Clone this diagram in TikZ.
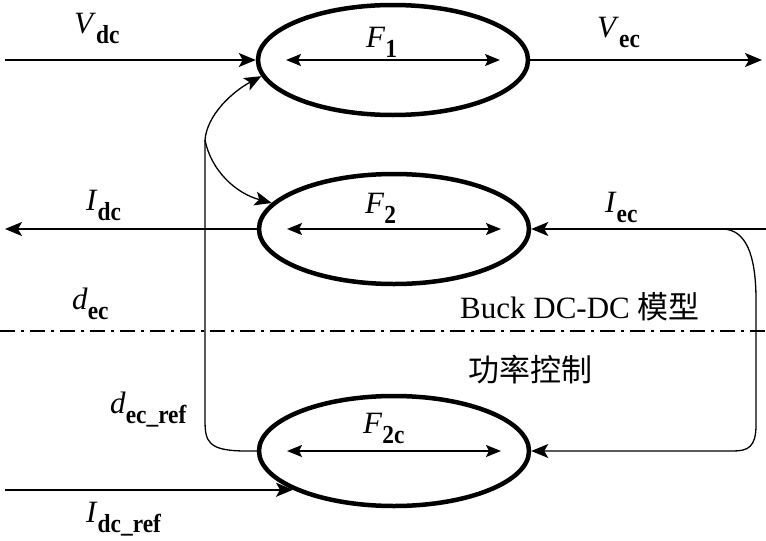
\documentclass[tikz,border=0pt]{standalone}
\usepackage{fontspec}
\setmainfont{Liberation Serif}
\newfontfamily\cjk{Noto Sans CJK SC}
\usetikzlibrary{arrows.meta,shapes.geometric}
\newcommand\mysub[1]{\raisebox{-0.33em}{\scalebox{0.9}[1]{\fontsize{26}{26}\selectfont\bfseries #1}}}
\newcommand\myvar[2]{\textit{#1}\mysub{#2}}
\tikzset{
  blob/.style={ellipse,draw,line width=4.5pt,minimum width=270pt,minimum height=110pt,inner sep=0pt},
  conn/.style={line width=1.8pt,-{Stealth[length=17pt,width=14pt,inset=4pt]}},
  thinconn/.style={line width=1.3pt,-{Stealth[length=17pt,width=14pt,inset=4pt]}},
  inner/.style={line width=1.8pt,{Stealth[length=15pt,width=12pt,inset=3pt]}-{Stealth[length=15pt,width=12pt,inset=3pt]}},
  lbl/.style={inner sep=0pt,anchor=base west,font=\fontsize{31}{36}\selectfont},
}
\begin{document}
\begin{tikzpicture}[x=1pt,y=-1pt]
\useasboundingbox (0,0) rectangle (766,541);
% ellipses
\node[blob] (F1) at (393,60) {};
\node[blob] (F2) at (394,229) {};
\node[blob] (F2c) at (394,451) {};
% inner double arrows
\draw[inner] ([xshift=-107pt]F1.center) -- ([xshift=107pt]F1.center);
\draw[inner] ([xshift=-107pt]F2.center) -- ([xshift=107pt]F2.center);
\draw[inner] ([xshift=-107pt]F2c.center) -- ([xshift=107pt]F2c.center);
% free ends
\coordinate (vdcin) at (5,60);
\coordinate (vecout) at (762,60);
\coordinate (idcout) at (5,229);
\coordinate (iecin) at (766,229);
\coordinate (iecsplit) at (722,229);
\coordinate (idcrefin) at (5,490);
\coordinate (split) at (205,140);
% main connectors
\draw[conn] (vdcin) -- (F1.west);
\draw[conn] (F1.east) -- (vecout);
\draw[conn] (F2.west) -- (idcout);
\draw[conn] (iecin) -- (F2.east);
\draw[conn] (idcrefin |- F2c.201.5) -- (F2c.201.5);
% left feedback
\draw[line width=1.3pt] (F2c.west) -- ++(-10,0) .. controls (208,451) and (205,442) .. (205,420) -- (split);
\draw[thinconn] (split) .. controls (207,115) and (232,92) .. (F1.187);
\draw[thinconn] (split) .. controls (211,170) and (235,193) .. (F2.168);
% right feedback
\draw[thinconn] (iecsplit) .. controls (746,229) and (756,255) .. (756,300) -- (756,425) .. controls (756,447) and (748,451) .. (733,451) -- (F2c.east);
% dash-dot separator
\draw[line width=1.6pt,dash pattern=on 15pt off 6pt on 3pt off 6pt] (0,331) -- (766,331);
% labels
\node[lbl] (tVdc) at (74,33) {\myvar{V}{dc}};
\node[lbl] (tF1) at (366,47) {\textit{F}\mysub{1}};
\node[lbl] (tVec) at (597,37) {\myvar{V}{ec}};
\node[lbl] (tIdc) at (86,210) {\myvar{I}{dc}};
\node[lbl] (tF2) at (365,213) {\textit{F}\mysub{2}};
\node[lbl] (tIec) at (605,212) {\myvar{I}{ec}};
\node[lbl] (tdec) at (72,309) {\myvar{d}{ec}};
\node[lbl] (tbuck) at (460,318) {Buck DC-DC {\cjk 模型}};
\node[inner sep=0pt,font=\fontsize{31}{36}\selectfont\cjk] (tpc) at (530,370) {功率控制};
\node[lbl] (tdecref) at (110,413) {\myvar{d}{ec\_ref}};
\node[lbl] (tF2c) at (363,433) {\textit{F}\mysub{2c}};
\node[lbl] (tIdcref) at (86,522) {\myvar{I}{dc\_ref}};
\end{tikzpicture}
\end{document}
